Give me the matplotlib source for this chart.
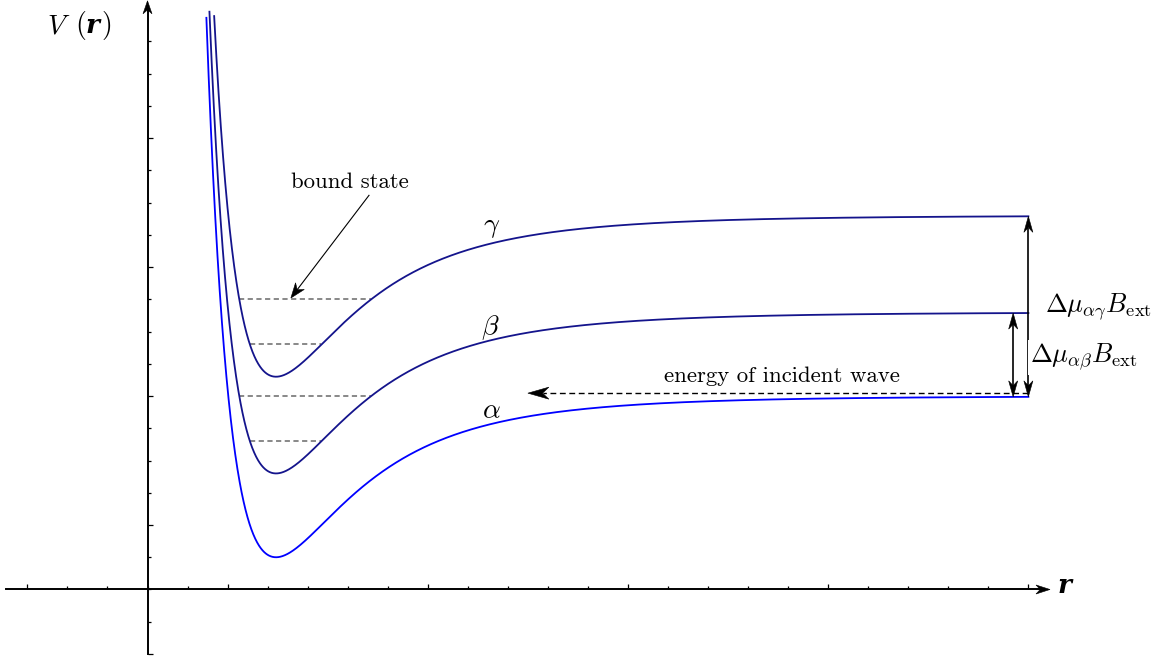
import numpy as np
import matplotlib
matplotlib.use("Agg")
import matplotlib.pyplot as plt
from matplotlib.patches import Polygon

plt.rcParams["mathtext.fontset"] = "cm"

# ---- data (axis units = tick spacing) ----
curves = ["alpha", "beta", "gamma"]
asymptote = [6.0, 8.6, 11.6]        # level far out at large r
well_depth = [5.0, 5.0, 5.0]        # depth of the well below the asymptote
curve_color = ["#0000FF", "#14148C", "#14148C"]
r_well = 3.21                       # position of the minimum
r_core = -7.72                      # inner origin of the model potential
r_end = 22.0
v_clip = 17.95
beta_levels = [6.0, 4.6]            # dashed bound-state levels
gamma_levels = [9.0, 7.6]
incident_level = 6.09

xticks_minor = list(range(-3, 23))
xticks_major = [-3, 2, 7, 12, 17, 22]
yticks_minor = list(range(-2, 18))
yticks_major = [-2, 2, 6, 10, 14]

W, H = 1173, 659
XLIM = (-3.684, 25.612)
YLIM = (-2.156, 18.285)
PX = W / (XLIM[1] - XLIM[0])     # pixels per x unit
PY = H / (YLIM[1] - YLIM[0])     # pixels per y unit


def potential(x, top, depth):
    q = ((r_well - r_core) / (x - r_core)) ** 6
    return top + depth * (q * q - 2 * q)


fig = plt.figure(figsize=(W / 100, H / 100), dpi=100)
ax = fig.add_axes([0, 0, 1, 1])
ax.set_xlim(*XLIM); ax.set_ylim(*YLIM)
ax.patch.set_visible(False)

for s in ["top", "right"]:
    ax.spines[s].set_visible(False)
ax.spines["bottom"].set_position(("data", 0))
ax.spines["left"].set_position(("data", 0))
ax.spines["bottom"].set_bounds(-3.53, 22.3)
ax.spines["left"].set_bounds(-2.0, 18.0)
for s in ["bottom", "left"]:
    ax.spines[s].set_linewidth(1.4)
ax.set_xticks(xticks_major); ax.set_xticks(xticks_minor, minor=True)
ax.set_yticks(yticks_major); ax.set_yticks(yticks_minor, minor=True)
ax.tick_params(which="both", direction="in", width=0.9, labelbottom=False, labelleft=False)
ax.tick_params(which="major", length=3.4)
ax.tick_params(which="minor", length=2.2)


def head(x1, y1, ux, uy, L, Wd, color="k"):
    px_, py_ = -uy, ux
    pts = [(x1, y1),
           (x1 + (-L * ux + Wd / 2 * px_) / PX, y1 + (-L * uy + Wd / 2 * py_) / PY),
           (x1 - 0.7 * L * ux / PX, y1 - 0.7 * L * uy / PY),
           (x1 + (-L * ux - Wd / 2 * px_) / PX, y1 + (-L * uy - Wd / 2 * py_) / PY)]
    ax.add_patch(Polygon(pts, closed=True, fc=color, ec=color, lw=0.4, zorder=6))
    return x1 - 0.7 * L * ux / PX, y1 - 0.7 * L * uy / PY


def arrow(x0, y0, x1, y1, L=14, Wd=9, lw=1.1, dashes=None, both=False, z=5):
    vx, vy = (x1 - x0) * PX, (y1 - y0) * PY
    n = np.hypot(vx, vy); ux, uy = vx / n, vy / n
    ex, ey = head(x1, y1, ux, uy, L, Wd)
    sx, sy = (head(x0, y0, -ux, -uy, L, Wd) if both else (x0, y0))
    ln, = ax.plot([sx, ex], [sy, ey], color="k", lw=lw, zorder=z, solid_capstyle="butt")
    if dashes:
        ln.set_dashes(dashes)


# axis arrow heads
head(22.54, 0, 1, 0, 14, 9)
head(0, 18.26, 0, 1, 13, 9)

# potential curves
x = np.linspace(1.2, r_end, 3000)
vals = {}
for name, top, depth, c in zip(curves, asymptote, well_depth, curve_color):
    v = potential(x, top, depth)
    vals[name] = (top, depth)
    ax.plot(np.where(v <= v_clip, x, np.nan), v, color=c, lw=1.3, zorder=3)

# bound-state levels
for name, levels in [("beta", beta_levels), ("gamma", gamma_levels)]:
    top, depth = vals[name]
    xs = np.linspace(1.5, 12, 20000)
    v = potential(xs, top, depth)
    for lev in levels:
        inside = xs[v <= lev]
        ln, = ax.plot([inside[0], inside[-1]], [lev, lev], color="#7a7a7a", lw=1.25, zorder=2)
        ln.set_dashes((3.0, 2.0))

# labels of curves
greek = {"alpha": (8.59, 5.32, r"$\alpha$"), "beta": (8.55, 7.93, r"$\beta$"),
         "gamma": (8.59, 11.09, r"$\gamma$")}
for k, (gx, gy, t) in greek.items():
    ax.text(gx, gy, t, fontsize=20, ha="center", va="baseline")

# bound state annotation
ax.text(5.06, 12.45, "bound state", family="cmr10", fontsize=16.4, ha="center", va="baseline")
arrow(5.54, 12.24, 3.58, 9.04, L=15, Wd=11, lw=0.8)

# incident wave
ax.text(15.85, 6.45, "energy of incident wave", family="cmr10", fontsize=16.4,
        ha="center", va="baseline")
arrow(r_end, incident_level, 9.5, incident_level, L=21, Wd=12, lw=1.0, dashes=(4.2, 2.6))

# Zeeman splittings
va_, vb_, vg_ = [potential(r_end, t, d) for t, d in zip(asymptote, well_depth)]
arrow(r_end, va_, r_end, vg_, L=16, Wd=9, lw=1.2, both=True, z=4)
vb_at = potential(21.62, asymptote[1], well_depth[1])
arrow(21.62, va_, 21.62, vb_at, L=16, Wd=9, lw=1.2, both=True, z=4)
ax.text(22.41, 8.62, r"$\Delta\mu_{\alpha\gamma}B_{\mathrm{ext}}$", fontsize=19,
        ha="left", va="baseline")
ax.text(22.04, 7.05, r"$\Delta\mu_{\alpha\beta}B_{\mathrm{ext}}$", fontsize=19,
        ha="left", va="baseline", zorder=7,
        bbox=dict(fc="white", ec="none", pad=1.5))

# axis labels
ax.text(-2.52, 17.25, r"$V$", fontsize=20, ha="left", va="baseline")
ax.text(-1.82, 17.25, r"$($", fontsize=20, ha="left", va="baseline")
ax.text(-1.55, 17.25, "r", family="DejaVu Serif", style="italic", weight="bold",
        fontsize=19, ha="left", va="baseline")
ax.text(-1.16, 17.25, r"$)$", fontsize=20, ha="left", va="baseline")
ax.text(22.74, -0.1, "r", family="DejaVu Serif", style="italic", weight="bold",
        fontsize=19, ha="left", va="baseline")

fig.savefig("out.png", dpi=100)
